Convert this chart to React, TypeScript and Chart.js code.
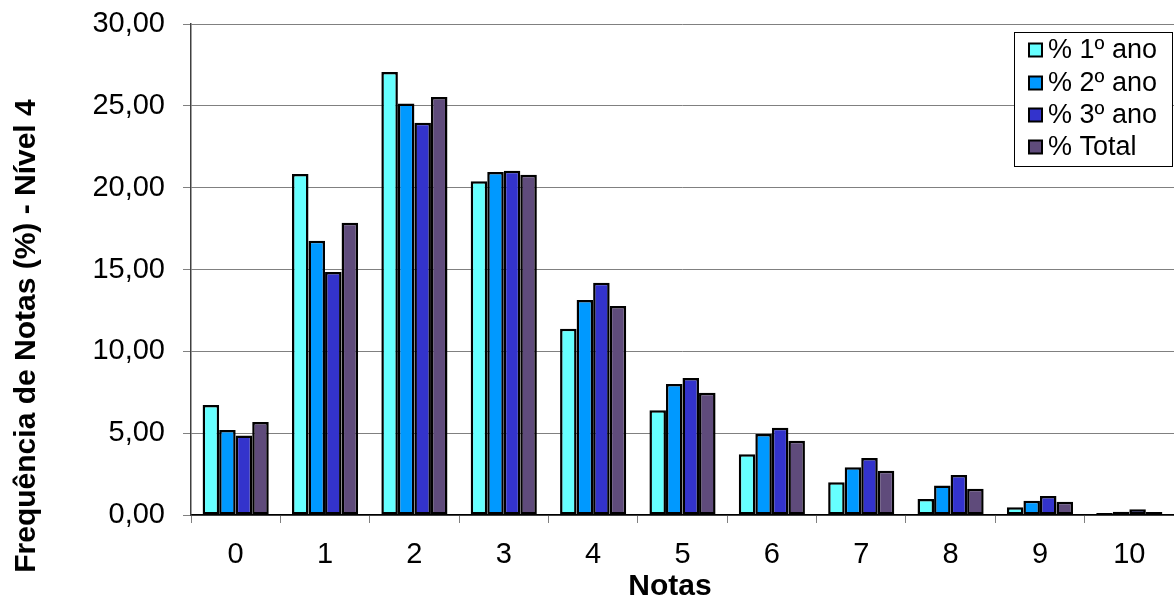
import React, { useEffect, useRef } from "react";
import { Chart, registerables } from "chart.js";

Chart.register(...registerables);

const categories = ["0", "1", "2", "3", "4", "5", "6", "7", "8", "9", "10"];
const seriesLabels = ["% 1º ano", "% 2º ano", "% 3º ano", "% Total"];
const ano1 = [6.72, 20.83, 27.07, 20.39, 11.38, 6.40, 3.71, 2.00, 0.98, 0.47, 0.12];
const ano2 = [5.19, 16.76, 25.15, 20.96, 13.14, 8.00, 4.95, 2.91, 1.81, 0.87, 0.20];
const ano3 = [4.85, 14.85, 23.97, 21.04, 14.19, 8.37, 5.33, 3.48, 2.44, 1.16, 0.35];
const total = [5.68, 17.86, 25.54, 20.79, 12.77, 7.47, 4.54, 2.71, 1.61, 0.81, 0.18];
const colors = ["#66ffff", "#0099ff", "#3333cc", "#5f4b7b"];
const yTitle = "Frequência de Notas (%) - Nível 4";
const xTitle = "Notas";

const FONT = '"Liberation Sans", Arial, sans-serif';

const customPlugin = {
  id: "customDecor",
  afterDraw(chart: any) {
    const ctx = chart.ctx;
    ctx.save();
    // axis titles
    ctx.fillStyle = "#000";
    ctx.font = `bold 30px ${FONT}`;
    ctx.textAlign = "center";
    ctx.textBaseline = "middle";
    ctx.fillText(xTitle, 670, 587);
    ctx.save();
    ctx.translate(27, 336);
    ctx.rotate(-Math.PI / 2);
    ctx.fillText(yTitle, 0, 0);
    ctx.restore();

    // legend
    const bx = 1014.5, by = 32.5, bw = 158, bh = 134;
    ctx.fillStyle = "#fff";
    ctx.fillRect(bx, by, bw, bh);
    ctx.strokeStyle = "#000";
    ctx.lineWidth = 1;
    ctx.strokeRect(bx, by, bw, bh);
    const centers = [50, 83, 115, 147];
    ctx.font = `27px ${FONT}`;
    ctx.textAlign = "left";
    ctx.textBaseline = "middle";
    chart.data.datasets.forEach((ds: any, i: number) => {
      const cy = centers[i];
      ctx.fillStyle = ds.backgroundColor;
      ctx.fillRect(1029, cy - 6.5, 13, 13);
      ctx.lineWidth = 2;
      ctx.strokeStyle = "#000";
      ctx.strokeRect(1029, cy - 6.5, 13, 13);
      ctx.fillStyle = "#000";
      ctx.fillText(ds.label, 1048, cy + 1);
    });
    ctx.restore();
  },
};

export default function App() {
  const ref = useRef<HTMLCanvasElement>(null);

  useEffect(() => {
    if (!ref.current) return;
    const series = [ano1, ano2, ano3, total];
    const chart = new Chart(ref.current, {
      type: "bar",
      data: {
        labels: categories,
        datasets: series.map((d, i) => ({
          label: seriesLabels[i],
          data: d,
          backgroundColor: colors[i],
          borderColor: "#000",
          borderWidth: 2.5,
          borderSkipped: false,
          categoryPercentage: 0.74,
          barPercentage: 1.0,
        })),
      },
      options: {
        animation: false,
        responsive: false,
        devicePixelRatio: 1,
        layout: { padding: { top: 24, right: 0, left: 0, bottom: 0 } },
        plugins: {
          legend: { display: false },
          tooltip: { enabled: false },
        },
        scales: {
          x: {
            offset: true,
            grid: {
              display: true,
              offset: true,
              drawOnChartArea: false,
              drawTicks: true,
              tickLength: 8,
              color: "#808080",
            },
            border: { display: true, color: "#000", width: 1.5 },
            ticks: {
              color: "#000",
              font: { family: FONT, size: 29 },
              padding: 15,
              maxRotation: 0,
            },
            afterFit(scale: any) {
              scale.height = 85;
              scale.paddingLeft = 0;
              scale.paddingRight = 0;
            },
          },
          y: {
            min: 0,
            max: 30,
            ticks: {
              stepSize: 5,
              color: "#000",
              font: { family: FONT, size: 29 },
              padding: 18,
              callback: (v: any) => Number(v).toFixed(2).replace(".", ","),
            },
            grid: {
              color: "#808080",
              tickLength: 8,
              lineWidth: 1,
            },
            border: { display: true, color: "#404040", width: 1.5 },
            afterFit(scale: any) {
              scale.width = 191;
              scale.paddingTop = 0;
              scale.paddingBottom = 0;
            },
          },
        },
      },
      plugins: [customPlugin],
    });
    return () => chart.destroy();
  }, []);

  return (
    <div style={{ position: "absolute", left: 0, top: 0, width: 1174, height: 600, background: "#fff" }}>
      <canvas ref={ref} width={1174} height={600} style={{ display: "block" }} />
    </div>
  );
}
